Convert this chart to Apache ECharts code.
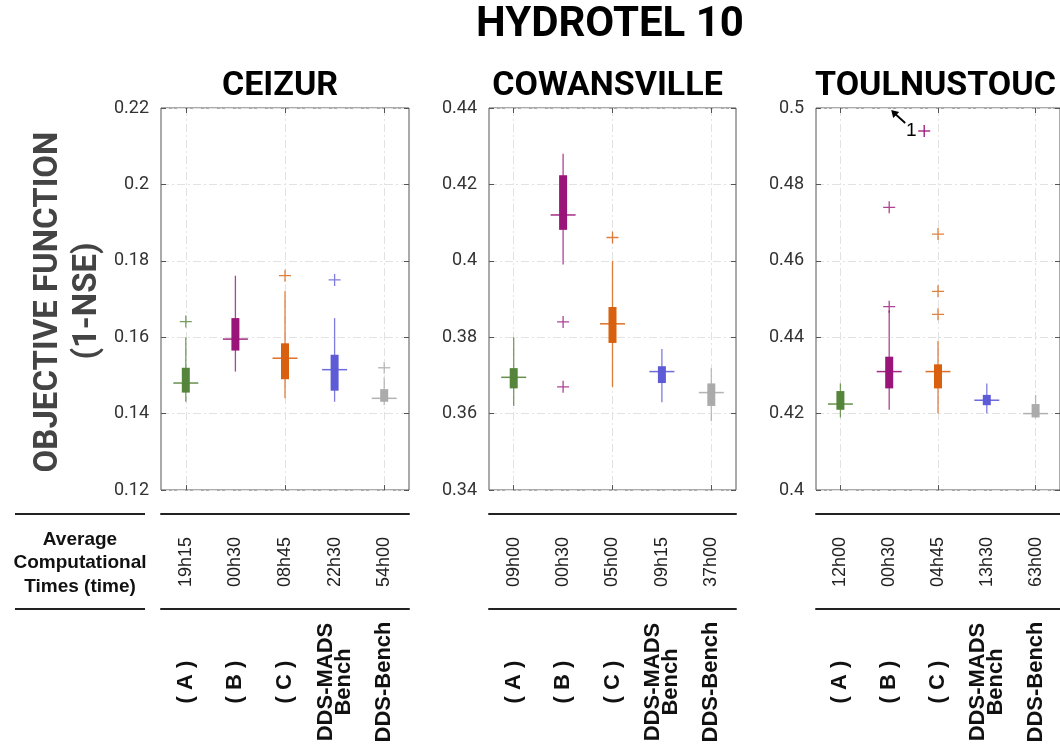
<!DOCTYPE html>
<html>
<head>
<meta charset="utf-8">
<script src="https://cdn.jsdelivr.net/npm/echarts@6/dist/echarts.min.js"></script>
<style>
  html, body { margin: 0; padding: 0; background: #fff; }
  #chart { width: 1060px; height: 751px; }
</style>
</head>
<body>
<div id="chart"></div>
<script>
// categories
const methods = ['( A )', '( B )', '( C )', 'DDS-MADS\nBench', 'DDS-Bench']
const methodColors = ['#55853a', '#9a1479', '#d8600f', '#5e5bd6', '#ababab']

// box stats per method: [lowWhisker, q1, median, q3, highWhisker]
const ceizurTimes = ['19h15', '00h30', '08h45', '22h30', '54h00']
const ceizurStats = [
  [0.1431, 0.1455, 0.148, 0.152, 0.16],
  [0.151, 0.1565, 0.1595, 0.165, 0.1761],
  [0.144, 0.149, 0.1545, 0.1584, 0.172],
  [0.1431, 0.146, 0.1515, 0.1554, 0.165],
  [0.1422, 0.1431, 0.144, 0.1464, 0.1495],
]
const ceizurOutliers = [[0, 0.1641], [2, 0.1761], [3, 0.175], [4, 0.152]]

const cowansvilleTimes = ['09h00', '00h30', '05h00', '09h15', '37h00']
const cowansvilleStats = [
  [0.362, 0.3666, 0.3695, 0.3719, 0.38],
  [0.399, 0.4081, 0.412, 0.4224, 0.428],
  [0.367, 0.3785, 0.3835, 0.3879, 0.4],
  [0.363, 0.368, 0.371, 0.3724, 0.3769],
  [0.358, 0.362, 0.3655, 0.3679, 0.3719],
]
const cowansvilleOutliers = [[1, 0.384], [1, 0.367], [2, 0.4061]]

const toulnustoucTimes = ['12h00', '00h30', '04h45', '13h30', '63h00']
const toulnustoucStats = [
  [0.419, 0.421, 0.4225, 0.4259, 0.4279],
  [0.421, 0.4266, 0.431, 0.4349, 0.447],
  [0.42, 0.4266, 0.431, 0.4329, 0.4391],
  [0.42, 0.4222, 0.4235, 0.4249, 0.4279],
  [0.4188, 0.419, 0.42, 0.4225, 0.4249],
]
const toulnustoucOutliers = [[1, 0.448], [1, 0.474], [2, 0.446], [2, 0.452], [2, 0.467]]
// values above the axis top: [method, count]
const toulnustoucAbove = [[1, 1]]

const panels = [
  { name: 'CEIZUR', left: 161, width: 248, min: 0.12, max: 0.22, times: ceizurTimes, stats: ceizurStats, outliers: ceizurOutliers },
  { name: 'COWANSVILLE', left: 489, width: 247, min: 0.34, max: 0.44, times: cowansvilleTimes, stats: cowansvilleStats, outliers: cowansvilleOutliers },
  { name: 'TOULNUSTOUC', left: 816, width: 249, min: 0.4, max: 0.5, times: toulnustoucTimes, stats: toulnustoucStats, outliers: toulnustoucOutliers },
]

const gridTop = 108
const gridHeight = 382
const gridLineStyle = { color: '#e2e2e2', width: 1, type: [8, 3, 2, 3] }
const frameColor = '#555'

function renderBox(params, api) {
  const k = api.value(0)
  const low = api.coord([k, api.value(1)])
  const q1 = api.coord([k, api.value(2)])
  const med = api.coord([k, api.value(3)])
  const q3 = api.coord([k, api.value(4)])
  const high = api.coord([k, api.value(5)])
  const color = methodColors[k]
  return {
    type: 'group',
    children: [
      { type: 'line', shape: { x1: low[0], y1: low[1], x2: high[0], y2: high[1] },
        style: { stroke: color, lineWidth: 1.3, opacity: 0.8 } },
      { type: 'rect', shape: { x: q3[0] - 4, y: q3[1], width: 8, height: q1[1] - q3[1] },
        style: { fill: color } },
      { type: 'line', shape: { x1: med[0] - 12.5, y1: med[1], x2: med[0] + 12.5, y2: med[1] },
        style: { stroke: color, lineWidth: 1.5, opacity: 0.9 } },
    ],
  }
}

const grid = []
const xAxis = []
const yAxis = []
const series = []
const graphic = []

panels.forEach(function (p, i) {
  grid.push({ left: p.left, top: gridTop, width: p.width, height: gridHeight,
    show: true, borderColor: frameColor, borderWidth: 1 })

  // frame bottom / top with category ticks
  xAxis.push({ gridIndex: i, type: 'category', data: methods, position: 'bottom',
    axisLine: { show: false },
    axisTick: { show: true, inside: true, alignWithLabel: true, length: 5, lineStyle: { color: frameColor } },
    axisLabel: { show: false },
    splitLine: { show: true, alignWithLabel: true, lineStyle: gridLineStyle } })
  xAxis.push({ gridIndex: i, type: 'category', data: methods, position: 'top',
    axisLine: { show: false },
    axisTick: { show: true, inside: true, alignWithLabel: true, length: 5, lineStyle: { color: frameColor } },
    axisLabel: { show: false }, splitLine: { show: false } })
  // computational times row
  xAxis.push({ gridIndex: i, type: 'category', data: p.times, position: 'bottom', offset: 24,
    axisLine: { show: true, lineStyle: { color: '#222', width: 2 } },
    axisTick: { show: false },
    axisLabel: { rotate: 90, align: 'center', verticalAlign: 'middle', margin: 48,
      fontSize: 18, fontFamily: 'Liberation Sans', color: '#222' },
    splitLine: { show: false } })
  // method names row
  xAxis.push({ gridIndex: i, type: 'category', data: methods, position: 'bottom', offset: 119,
    axisLine: { show: true, lineStyle: { color: '#222', width: 2 } },
    axisTick: { show: false },
    axisLabel: { rotate: 90, align: 'center', verticalAlign: 'middle', margin: 73, lineHeight: 18,
      fontSize: 22, fontWeight: 'bold', fontFamily: 'Liberation Sans', color: '#111' },
    splitLine: { show: false } })

  yAxis.push({ gridIndex: i, type: 'value', min: p.min, max: p.max, interval: 0.02, position: 'left',
    axisLine: { show: false },
    axisTick: { show: true, inside: true, length: 5, lineStyle: { color: frameColor } },
    axisLabel: { margin: 12, fontSize: 18, fontFamily: 'Roboto', color: '#333' },
    splitLine: { show: true, lineStyle: gridLineStyle } })
  yAxis.push({ gridIndex: i, type: 'value', min: p.min, max: p.max, interval: 0.02, position: 'right',
    axisLine: { show: false },
    axisTick: { show: true, inside: true, length: 5, lineStyle: { color: frameColor } },
    axisLabel: { show: false }, splitLine: { show: false } })

  series.push({ type: 'custom', name: p.name, xAxisIndex: i * 4, yAxisIndex: i * 2,
    renderItem: renderBox, encode: { x: 0, y: [1, 2, 3, 4, 5] },
    data: p.stats.map(function (s, k) { return [k].concat(s) }), z: 3 })
  series.push({ type: 'scatter', xAxisIndex: i * 4, yAxisIndex: i * 2,
    symbol: 'path://M0,5L10,5M5,0L5,10', symbolSize: 12,
    data: p.outliers.map(function (o) {
      return { value: o, itemStyle: { color: 'none', borderColor: methodColors[o[0]], borderWidth: 1.3 } }
    }), z: 4 })

  graphic.push({ type: 'text', x: p.left + p.width / 2 - 5, y: 86,
    style: { text: p.name, font: 'bold 34px Roboto', fill: '#000', align: 'center', verticalAlign: 'middle' } })
})

graphic.push({ type: 'text', x: 610, y: 25,
  style: { text: 'HYDROTEL 10', font: 'bold 42px Roboto', fill: '#000', align: 'center', verticalAlign: 'middle' } })
graphic.push({ type: 'text', x: 49, y: 302, rotation: Math.PI / 2,
  style: { text: 'OBJECTIVE FUNCTION', font: 'bold 33px Roboto', fill: '#444', align: 'center', verticalAlign: 'middle' } })
graphic.push({ type: 'text', x: 88, y: 301, rotation: Math.PI / 2,
  style: { text: '(1-NSE)', font: 'bold 33px Roboto', fill: '#444', align: 'center', verticalAlign: 'middle' } })
// left part of the table
graphic.push({ type: 'line', shape: { x1: 15, y1: 514, x2: 145, y2: 514 }, style: { stroke: '#222', lineWidth: 2 } })
graphic.push({ type: 'line', shape: { x1: 15, y1: 609, x2: 145, y2: 609 }, style: { stroke: '#222', lineWidth: 2 } })
graphic.push({ type: 'text', x: 80, y: 563,
  style: { text: 'Average\nComputational\nTimes (time)', font: 'bold 19px "Liberation Sans"', lineHeight: 23.5,
    fill: '#111', align: 'center', verticalAlign: 'middle' } })

const chart = echarts.init(document.getElementById('chart'))
chart.setOption({
  animation: false,
  backgroundColor: '#fff',
  grid: grid,
  xAxis: xAxis,
  yAxis: yAxis,
  series: series,
  graphic: graphic,
})

// annotation for values above the top of the TOULNUSTOUC axis
const extra = []
toulnustoucAbove.forEach(function (a) {
  const tip = chart.convertToPixel({ xAxisIndex: 8, yAxisIndex: 4 }, [a[0], 0.5])
  const x0 = tip[0] + 2, y0 = tip[1] + 2
  const x1 = x0 + 14, y1 = y0 + 13
  extra.push({ type: 'line', shape: { x1: x0 + 3, y1: y0 + 3, x2: x1, y2: y1 }, style: { stroke: '#000', lineWidth: 1.8 } })
  extra.push({ type: 'polygon', shape: { points: [[x0, y0], [x0 + 8, y0 + 2], [x0 + 2, y0 + 8]] }, style: { fill: '#000' } })
  extra.push({ type: 'text', x: x1 + 6, y: y1 + 8,
    style: { text: String(a[1]), font: '19px "Liberation Sans"', fill: '#000', align: 'center', verticalAlign: 'middle' } })
  extra.push({ type: 'group', x: x1 + 13, y: y1 + 8, children: [
    { type: 'line', shape: { x1: 0, y1: 0, x2: 12, y2: 0 }, style: { stroke: methodColors[a[0]], lineWidth: 1.3 } },
    { type: 'line', shape: { x1: 6, y1: -6, x2: 6, y2: 6 }, style: { stroke: methodColors[a[0]], lineWidth: 1.3 } },
  ] })
})
chart.setOption({ graphic: graphic.concat(extra) })

window.addEventListener('resize', function () {
  chart.resize()
})
</script>
</body>
</html>
